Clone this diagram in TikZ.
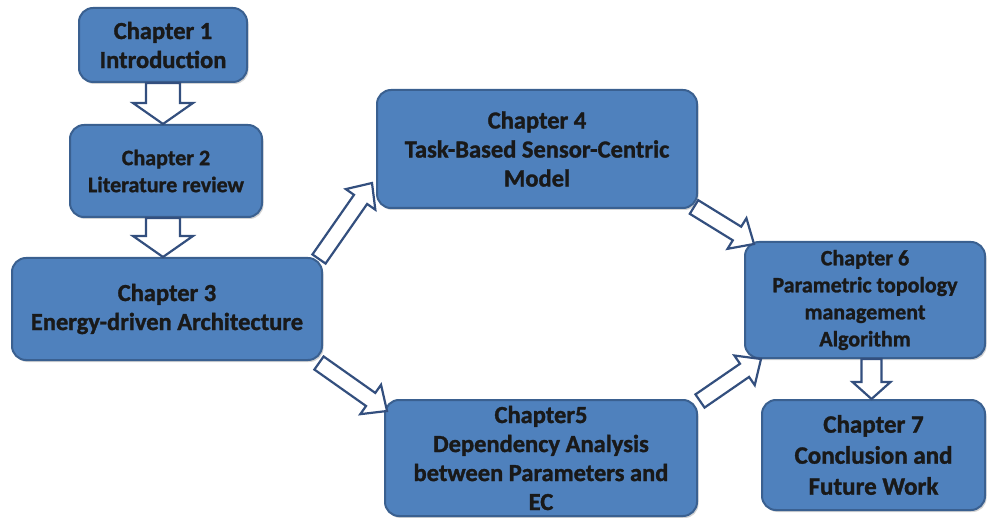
\documentclass[tikz,border=0pt]{standalone}
\usepackage{fontspec}
\setmainfont{Carlito}[BoldFeatures={FakeBold=1.3}]
\usetikzlibrary{calc,shadows}
\definecolor{boxfill}{HTML}{4F81BD}
\definecolor{boxline}{HTML}{3A6090}
\definecolor{arrline}{HTML}{334F7E}
\tikzset{
  chap/.style={draw=boxline, line width=2pt, fill=boxfill, rounded corners=14pt,
    align=center, text=black!90, inner sep=2pt,
    drop shadow={opacity=0.35, shadow xshift=1.5pt, shadow yshift=-2pt},
    font=\bfseries\fontsize{24.5}{29}\selectfont},
  chapsmall/.style={chap, font=\bfseries\fontsize{22}{27}\selectfont},
  blockarr/.style={draw=arrline, line width=2.2pt, fill=white, line join=miter},
}
\newcommand\blockarrow[5]{%
  \path ($(#2)!#5!(#1)$) coordinate (hb);
  \draw[blockarr] ($(#1)!#3!90:(#2)$) -- ($(hb)!#3!90:(#2)$) -- ($(hb)!#4!90:(#2)$)
    -- (#2) -- ($(hb)!#4!-90:(#2)$) -- ($(hb)!#3!-90:(#2)$) -- ($(#1)!#3!-90:(#2)$) -- cycle;
}
\begin{document}
\begin{tikzpicture}[x=1pt,y=-1pt]
\useasboundingbox (0,0) rectangle (987,518);
\node[chap, minimum width=168pt, minimum height=74pt] (c1) at (163,45) {Chapter 1\\Introduction};
\node[chapsmall, minimum width=192pt, minimum height=92pt] (c2) at (166,171) {Chapter 2\\Literature review};
\node[chap, minimum width=310pt, minimum height=102pt] (c3) at (167,309) {Chapter 3\\Energy-driven Architecture};
\node[chap, minimum width=320pt, minimum height=118pt] (c4) at (537,149) {Chapter 4\\Task-Based Sensor-Centric\\Model};
\node[chap, minimum width=312pt, minimum height=116pt] (c5) at (541,458) {Chapter5\\Dependency Analysis\\between Parameters and\\EC};
\node[chapsmall, minimum width=240pt, minimum height=116pt] (c6) at (865,300) {Chapter 6\\Parametric topology\\management\\Algorithm};
\node[chap, minimum width=223pt, minimum height=110pt, font=\bfseries\fontsize{25}{31}\selectfont] (c7) at (873.5,455) {Chapter 7\\Conclusion and\\Future Work};
% connector end points
\coordinate (a12s) at (c1.south);
\coordinate (a12e) at (c1.south |- c2.north);
\coordinate (a23s) at (c1.south |- c2.south);
\coordinate (a23e) at (c1.south |- c3.north);
\coordinate (a34s) at ($(c3.north east)+(-4,2)$);
\coordinate (a34e) at ($(c4.south west)+(-4,-26)$);
\coordinate (a35s) at ($(c3.south east)+(-4,2)$);
\coordinate (a35e) at ($(c5.north west)+(3,12)$);
\coordinate (a46s) at ($(c4.south east)+(-4,-2)$);
\coordinate (a46e) at ($(c6.north west)+(10,3)$);
\coordinate (a56s) at ($(c5.north east)+(2,2)$);
\coordinate (a56e) at ($(c6.south west)+(17,0)$);
\coordinate (a67s) at ($(c7.north |- c6.south)+(-2,0)$);
\coordinate (a67e) at ($(c7.north)+(-2,0)$);
\blockarrow{a12s}{a12e}{17pt}{30pt}{21pt}
\blockarrow{a23s}{a23e}{17pt}{30pt}{21pt}
\blockarrow{a34s}{a34e}{8pt}{18pt}{20pt}
\blockarrow{a35s}{a35e}{8pt}{18pt}{20pt}
\blockarrow{a46s}{a46e}{8pt}{18pt}{20pt}
\blockarrow{a56s}{a56e}{8pt}{18pt}{20pt}
\blockarrow{a67s}{a67e}{10pt}{19pt}{17pt}
\end{tikzpicture}
\end{document}
